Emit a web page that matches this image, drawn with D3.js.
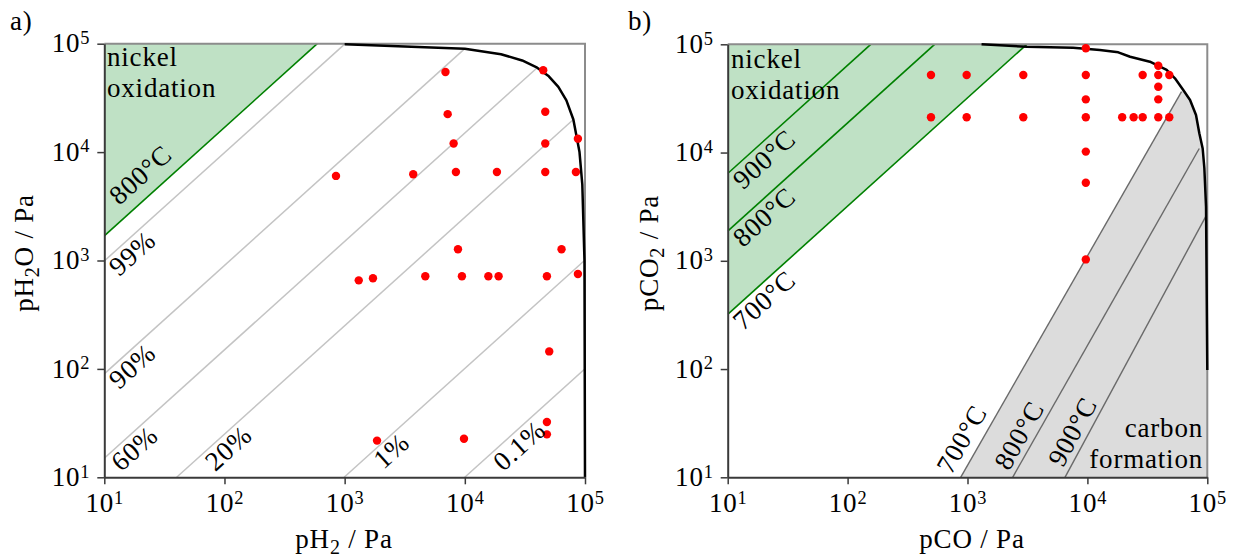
<!DOCTYPE html>
<html><head><meta charset="utf-8">
<script src="https://cdn.jsdelivr.net/npm/d3@7"></script>
<style>
html,body{margin:0;padding:0;background:#fff;}
svg{display:block;font-family:"Liberation Serif","Times New Roman",serif;letter-spacing:0.8px;}
</style></head><body>
<svg id="chart" width="1238" height="557"></svg>
<script>
// ---------- data ----------
const tickValues = [1e1, 1e2, 1e3, 1e4, 1e5];
const tickExponents = ["1", "2", "3", "4", "5"];

// panel a: H2 / H2O
const h2X  = [6900, 44900, 7200, 46700, 8070, 46700, 87300, 847, 3720, 8430, 18500, 46700, 84000, 8770, 63800,
              1310, 1720, 4690, 9460, 15700, 19100, 48200, 87300, 50400, 48200, 48200, 1860, 9840];
const h2oY = [54800, 56900, 22400, 23600, 12000, 12000, 13300, 6030, 6240, 6550, 6550, 6550, 6550, 1270, 1270,
              656, 685, 715, 715, 715, 715, 715, 750, 145, 32.4, 24.9, 21.8, 22.7];
const curveAX = [1000, 10000, 20000, 30000, 40000, 50000, 60000, 70000, 80000, 90000, 95000, 99000, 99990];
const curveAY = [99000, 90000, 80000, 70000, 60000, 50000, 40000, 30000, 20000, 10000, 5000, 1000, 10];
const ratioLabels = ["99%", "90%", "60%", "20%", "1%", "0.1%"];
const ratioStart  = [[10, 990], [10, 90], [10, 15], [40, 10], [990, 10], [9990, 10]];
const ratioEnd    = [[1000, 99000], [10000, 90000], [40000, 60000], [80000, 20000], [99000, 1000], [99900, 100]];
const niOxA = {label: "800°C", start: [10, 1690], end: [592, 1e5]};

// panel b: CO / CO2
const coX  = [496, 496, 984, 984, 2920, 2920, 9700, 9700, 9700, 9700, 9700, 9700, 9700,
              19500, 24300, 28900, 28900, 39000, 39000, 39000, 39000, 39000, 48200, 48200];
const co2Y = [52000, 21200, 52000, 21200, 52000, 21200, 92000, 52000, 31000, 21200, 10200, 5260, 1030,
              21200, 21200, 21200, 52000, 63400, 52000, 40600, 31000, 21200, 52000, 21200];
const curveBX = [1310, 3120, 7600, 12700, 18100, 22700, 33200, 45800, 53700, 63000, 71800, 80500, 85800, 91500, 94500, 97600, 100000];
const curveBY = [100000, 95000, 93000, 88600, 84300, 76800, 69000, 57900, 48500, 37800, 30600, 22200, 15100, 10900, 7200, 3160, 98];
const oxLabels = ["900°C", "800°C", "700°C"];
const oxStart  = [[10, 6400], [10, 1880], [10, 320]];
const oxEnd    = [[156, 1e5], [532, 1e5], [3125, 1e5]];
const carbonLabels = ["700°C", "800°C", "900°C"];
const carbonStart  = [[877, 10], [2380, 10], [6500, 10]];
const carbonEnd    = [[61000, 36500], [85700, 10900], [97700, 2600]];

// ---------- drawing ----------
const svg = d3.select("#chart");
const FS = 27;
const GREEN_FILL = "#bfe1c5", GREEN_LINE = "#008000";
const GREY_FILL = "#dcdcdc", GREY_LINE = "#6a6a6a";

function supLabel(sel, exp) {
  sel.text(null);
  sel.append("tspan").text("10");
  sel.append("tspan").attr("dy", "-0.45em").attr("font-size", "0.68em").text(exp);
}

function lineLabel(g, x, y, p0, p1, text, dx, dy) {
  const ax = x(p0[0]), ay = y(p0[1]);
  const ang = Math.atan2(y(p1[1]) - ay, x(p1[0]) - ax) * 180 / Math.PI;
  g.append("text")
    .attr("transform", `translate(${ax},${ay}) rotate(${ang})`)
    .attr("x", dx).attr("y", dy)
    .attr("font-size", FS).attr("fill", "#000")
    .text(text);
}

function panel(id, xr, yr) {
  const x = d3.scaleLog().domain([1e1, 1e5]).range(xr);
  const y = d3.scaleLog().domain([1e1, 1e5]).range(yr);
  const g = svg.append("g").attr("id", id);
  g.append("clipPath").attr("id", id + "-clip")
    .append("rect").attr("x", xr[0]).attr("y", yr[1]).attr("width", xr[1] - xr[0]).attr("height", yr[0] - yr[1]);
  const plot = g.append("g").attr("clip-path", `url(#${id}-clip)`);
  return {x, y, g, plot};
}

function frame(p) {
  const {x, y, g} = p;
  // top and right frame
  g.append("path")
    .attr("d", `M${x(1e1)},${y(1e5)}H${x(1e5)}V${y(1e1)}`)
    .attr("fill", "none").attr("stroke", "#8c8c8c").attr("stroke-width", 2);
}

function drawAxes(p) {
  const {x, y, g} = p;
  const xa = g.append("g").attr("transform", `translate(0,${y(1e1)})`)
    .call(d3.axisBottom(x).tickValues(tickValues).tickSize(7).tickSizeOuter(0).tickPadding(9));
  const ya = g.append("g").attr("transform", `translate(${x(1e1)},0)`)
    .call(d3.axisLeft(y).tickValues(tickValues).tickSize(7).tickSizeOuter(0).tickPadding(7));
  [xa, ya].forEach(a => {
    a.select(".domain").attr("stroke", "#3a3a3a").attr("stroke-width", 2);
    a.selectAll(".tick line").attr("stroke", "#3a3a3a").attr("stroke-width", 1.5);
    a.selectAll(".tick text")
      .attr("font-family", "Liberation Serif, serif").attr("font-size", FS).attr("fill", "#000")
      .each(function (d, i) { supLabel(d3.select(this), tickExponents[i]); });
  });
  xa.selectAll(".tick text").attr("dy", "0.71em");
  ya.selectAll(".tick text").attr("dy", "0.3em");
}

function axisTitle(g, xPos, yPos, rotate, parts) {
  const t = g.append("text")
    .attr("transform", `translate(${xPos},${yPos})${rotate ? " rotate(-90)" : ""}`)
    .attr("text-anchor", "middle").attr("font-size", FS).attr("fill", "#000");
  parts.forEach(pt => {
    const s = t.append("tspan").text(pt.t);
    if (pt.sub) s.attr("font-size", 20).attr("dy", 6);
    if (pt.after) s.attr("dy", -6);
  });
}

function dots(p, xs, ys) {
  p.g.append("g").selectAll("circle").data(xs).join("circle")
    .attr("cx", d => p.x(d)).attr("cy", (d, i) => p.y(ys[i]))
    .attr("r", 4.2).attr("fill", "#ff0000");
}

const curveLine = (p) => d3.line().x(d => p.x(d[0])).y(d => p.y(d[1]));

// ===== panel a =====
const A = panel("pa", [104.3, 585], [477.3, 43.7]);
A.plot.append("path")
  .attr("d", curveLine(A)([niOxA.start, [1e1, 1e5], niOxA.end]) + "Z")
  .attr("fill", GREEN_FILL);
A.plot.append("path").attr("d", curveLine(A)([niOxA.start, niOxA.end]))
  .attr("fill", "none").attr("stroke", GREEN_LINE).attr("stroke-width", 1.6);
ratioStart.forEach((s, i) => {
  A.plot.append("path").attr("d", curveLine(A)([s, ratioEnd[i]]))
    .attr("fill", "none").attr("stroke", "#c4c4c4").attr("stroke-width", 1.5);
});
frame(A);
A.g.append("path").attr("d", curveLine(A)(curveAX.map((v, i) => [v, curveAY[i]])))
  .attr("fill", "none").attr("stroke", "#000").attr("stroke-width", 2.5).attr("stroke-linejoin", "round");
drawAxes(A);
dots(A, h2X, h2oY);

const ratioOffsets = [[0, 22], [0, 22], [3, 22], [32, 22], [34, 21], [32, 22]];
ratioLabels.forEach((lab, i) => lineLabel(A.g, A.x, A.y, ratioStart[i], ratioEnd[i], lab, ratioOffsets[i][0], ratioOffsets[i][1]));
lineLabel(A.g, A.x, A.y, niOxA.start, niOxA.end, niOxA.label, 31, -12);

A.g.append("text").attr("x", 107).attr("y", 66).attr("font-size", FS).text("nickel");
A.g.append("text").attr("x", 107).attr("y", 97).attr("font-size", FS).text("oxidation");
axisTitle(A.g, 344, 548, false, [{t: "pH"}, {t: "2", sub: true}, {t: " / Pa", after: true}]);
axisTitle(A.g, 33, 253, true, [{t: "pH"}, {t: "2", sub: true}, {t: "O / Pa", after: true}]);
svg.append("text").attr("x", 10).attr("y", 30).attr("font-size", FS).text("a)");

// ===== panel b =====
const B = panel("pb", [727.7, 1207.3], [477.3, 44.3]);
B.plot.append("path")
  .attr("d", curveLine(B)([oxStart[2], [1e1, 1e5], oxEnd[2]]) + "Z")
  .attr("fill", GREEN_FILL);
oxStart.forEach((s, i) => {
  B.plot.append("path").attr("d", curveLine(B)([s, oxEnd[i]]))
    .attr("fill", "none").attr("stroke", GREEN_LINE).attr("stroke-width", 1.6);
});
// carbon formation region: right of the 700°C line, under the curve
const curvePts = curveBX.map((v, i) => [v, curveBY[i]]);
const greyPoly = [carbonStart[0], carbonEnd[0]]
  .concat(curvePts.filter(d => d[0] > carbonEnd[0][0]))
  .concat([[1e5, 1e1]]);
B.plot.append("path").attr("d", curveLine(B)(greyPoly) + "Z").attr("fill", GREY_FILL);
carbonStart.forEach((s, i) => {
  B.plot.append("path").attr("d", curveLine(B)([s, carbonEnd[i]]))
    .attr("fill", "none").attr("stroke", GREY_LINE).attr("stroke-width", 1.4);
});
frame(B);
B.g.append("path").attr("d", curveLine(B)(curvePts))
  .attr("fill", "none").attr("stroke", "#000").attr("stroke-width", 2.5).attr("stroke-linejoin", "round");
drawAxes(B);
dots(B, coX, co2Y);

oxLabels.forEach((lab, i) => lineLabel(B.g, B.x, B.y, oxStart[i], oxEnd[i], lab, 0, 23));
const carbonOffsets = [[-3, -9], [3, -6], [7, -6]];
carbonLabels.forEach((lab, i) => lineLabel(B.g, B.x, B.y, carbonStart[i], carbonEnd[i], lab, carbonOffsets[i][0], carbonOffsets[i][1]));

B.g.append("text").attr("x", 731).attr("y", 68).attr("font-size", FS).text("nickel");
B.g.append("text").attr("x", 731).attr("y", 99).attr("font-size", FS).text("oxidation");
B.g.append("text").attr("x", 1203).attr("y", 437).attr("text-anchor", "end").attr("font-size", FS).text("carbon");
B.g.append("text").attr("x", 1203).attr("y", 468).attr("text-anchor", "end").attr("font-size", FS).text("formation");
axisTitle(B.g, 972, 548, false, [{t: "pCO / Pa"}]);
axisTitle(B.g, 658, 253, true, [{t: "pCO"}, {t: "2", sub: true}, {t: " / Pa", after: true}]);
svg.append("text").attr("x", 628).attr("y", 30).attr("font-size", FS).text("b)");
</script>
</body></html>
